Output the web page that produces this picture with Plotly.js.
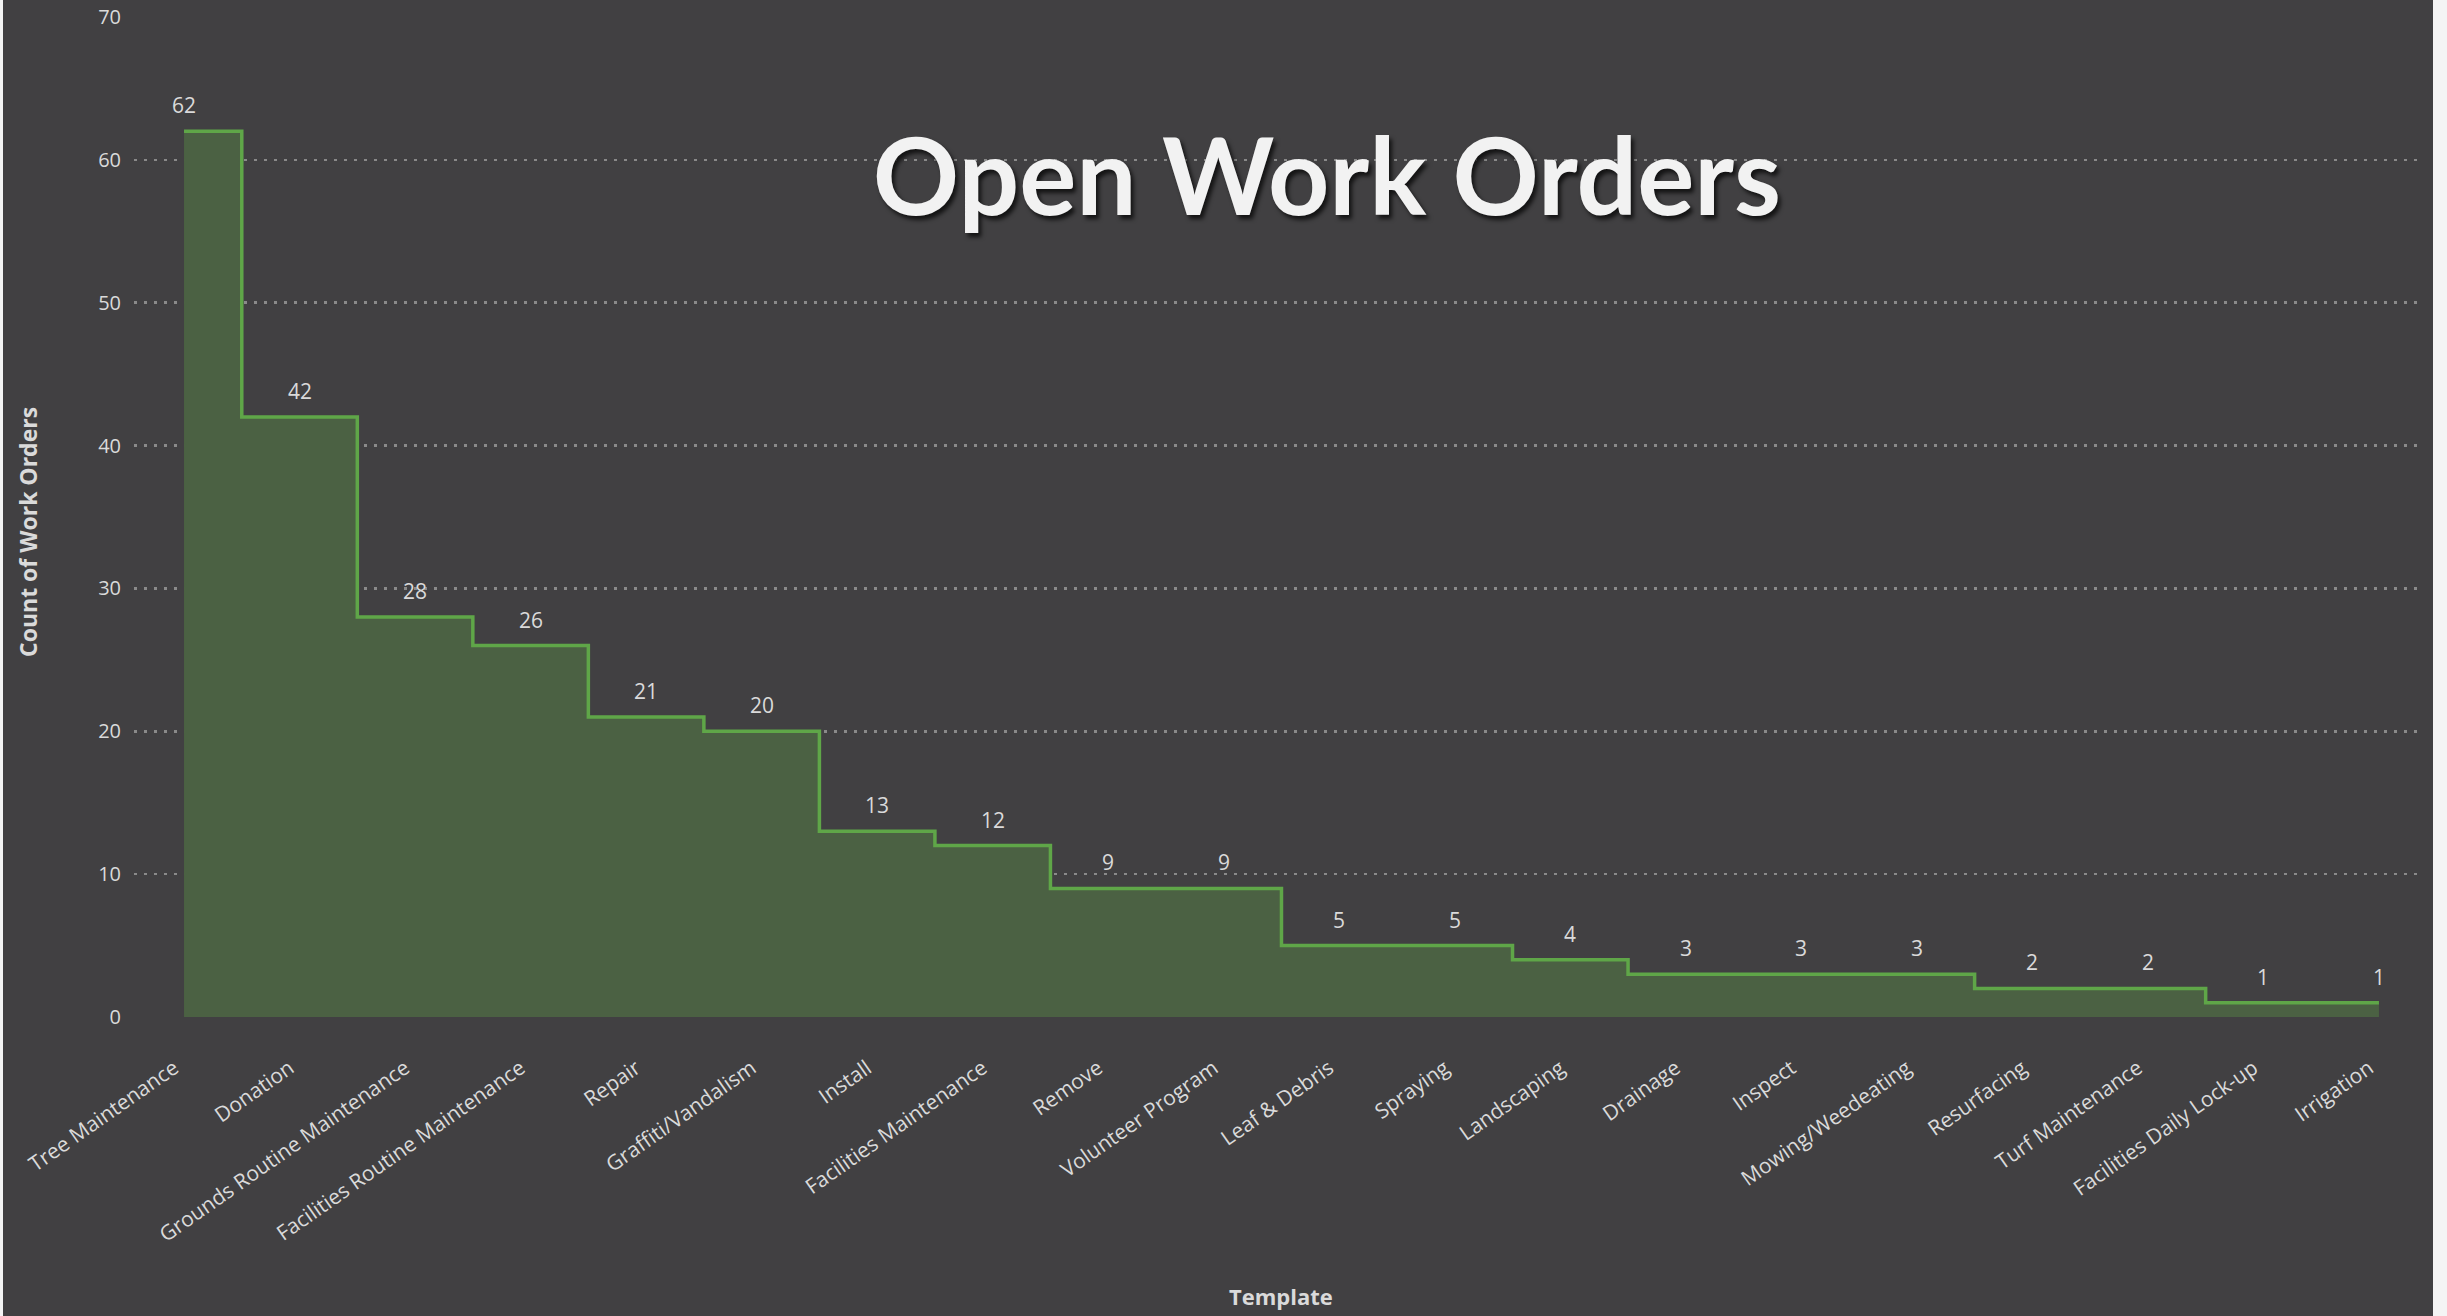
<!DOCTYPE html>
<html>
<head>
<meta charset="utf-8">
<script src="https://cdn.plot.ly/plotly-3.0.1.min.js"></script>
<style>
html,body{margin:0;padding:0;background:#f4f4f4;width:2447px;height:1316px;overflow:hidden;}
#chart{position:absolute;left:3px;top:0;width:2430px;height:1316px;}
</style>
</head>
<body>
<div id="chart"></div>
<script>
const categories = ["Tree Maintenance","Donation","Grounds Routine Maintenance","Facilities Routine Maintenance","Repair","Graffiti/Vandalism","Install","Facilities Maintenance","Remove","Volunteer Program","Leaf & Debris","Spraying","Landscaping","Drainage","Inspect","Mowing/Weedeating","Resurfacing","Turf Maintenance","Facilities Daily Lock-up","Irrigation"];
const counts = [62,42,28,26,21,20,13,12,9,9,5,5,4,3,3,3,2,2,1,1];
const yTicks = [0,10,20,30,40,50,60,70];
const xTitle = 'Template';
const yTitle = 'Count of Work Orders';
const chartTitle = 'Open Work Orders';

const bg = '#414042';
const labelColor = '#dadada';

const trace = {
  type: 'scatter',
  mode: 'lines',
  x: categories,
  y: counts,
  line: {shape: 'hvh', color: '#5fa648', width: 3.5},
  fill: 'tozeroy',
  fillcolor: '#4b6143',
  hoverinfo: 'x+y'
};

const annotations = categories.map((c, i) => ({
  x: c, y: counts[i], xref: 'x', yref: 'y',
  text: String(counts[i]), showarrow: false,
  yshift: 26,
  font: {family: 'Open Sans, sans-serif', size: 21, color: labelColor}
}));

annotations.push({
  x: 0, y: 0.5, xref: 'paper', yref: 'paper',
  xanchor: 'center', yanchor: 'middle',
  xshift: -106, yshift: -15,
  textangle: -90, showarrow: false,
  text: '<b>' + yTitle + '</b>',
  font: {family: 'Open Sans, sans-serif', size: 23, color: labelColor}
});

annotations.push({
  x: 0.5, y: 0, xref: 'paper', yref: 'paper',
  xanchor: 'center', yanchor: 'middle',
  xshift: 1281 - 134 - 1145, yshift: -(1296 - 1017),
  showarrow: false,
  text: '<b>' + xTitle + '</b>',
  font: {family: 'Open Sans, sans-serif', size: 22, color: labelColor}
});

const layout = {
  width: 2430, height: 1316,
  paper_bgcolor: bg, plot_bgcolor: bg,
  margin: {l: 131, r: 9, t: 17, b: 299},
  showlegend: false,
  title: {
    text: '<b>' + chartTitle + '</b>',
    x: 1324/2430, y: 1 - 178/1316, xanchor: 'center', yanchor: 'middle',
    xref: 'container', yref: 'container',
    font: {family: 'Lato, sans-serif', size: 107, color: '#f2f2f2', shadow: '3px 4px 4px rgba(0,0,0,0.7)'}
  },
  xaxis: {
    type: 'category',
    range: [-0.433, 19.39],
    tickangle: -35,
    showgrid: false, zeroline: false, showline: false,
    ticks: '',
    ticklabelstandoff: 34,
    ticklabelshift: -10,
    tickfont: {family: 'Open Sans, sans-serif', size: 21, color: labelColor},
    automargin: false
  },
  yaxis: {
    range: [0, 70],
    tickvals: yTicks,
    ticktext: yTicks.map(String),
    showgrid: true, gridcolor: '#8a8a8a', griddash: '3px,7px', gridwidth: 2.5,
    zeroline: false, showline: false, ticks: '',
    ticklabelstandoff: 12,
    tickfont: {family: 'Open Sans, sans-serif', size: 20, color: labelColor},
    automargin: false
  },
  annotations: annotations
};

Plotly.newPlot('chart', [trace], layout, {displayModeBar: false, staticPlot: true});
</script>
</body>
</html>
